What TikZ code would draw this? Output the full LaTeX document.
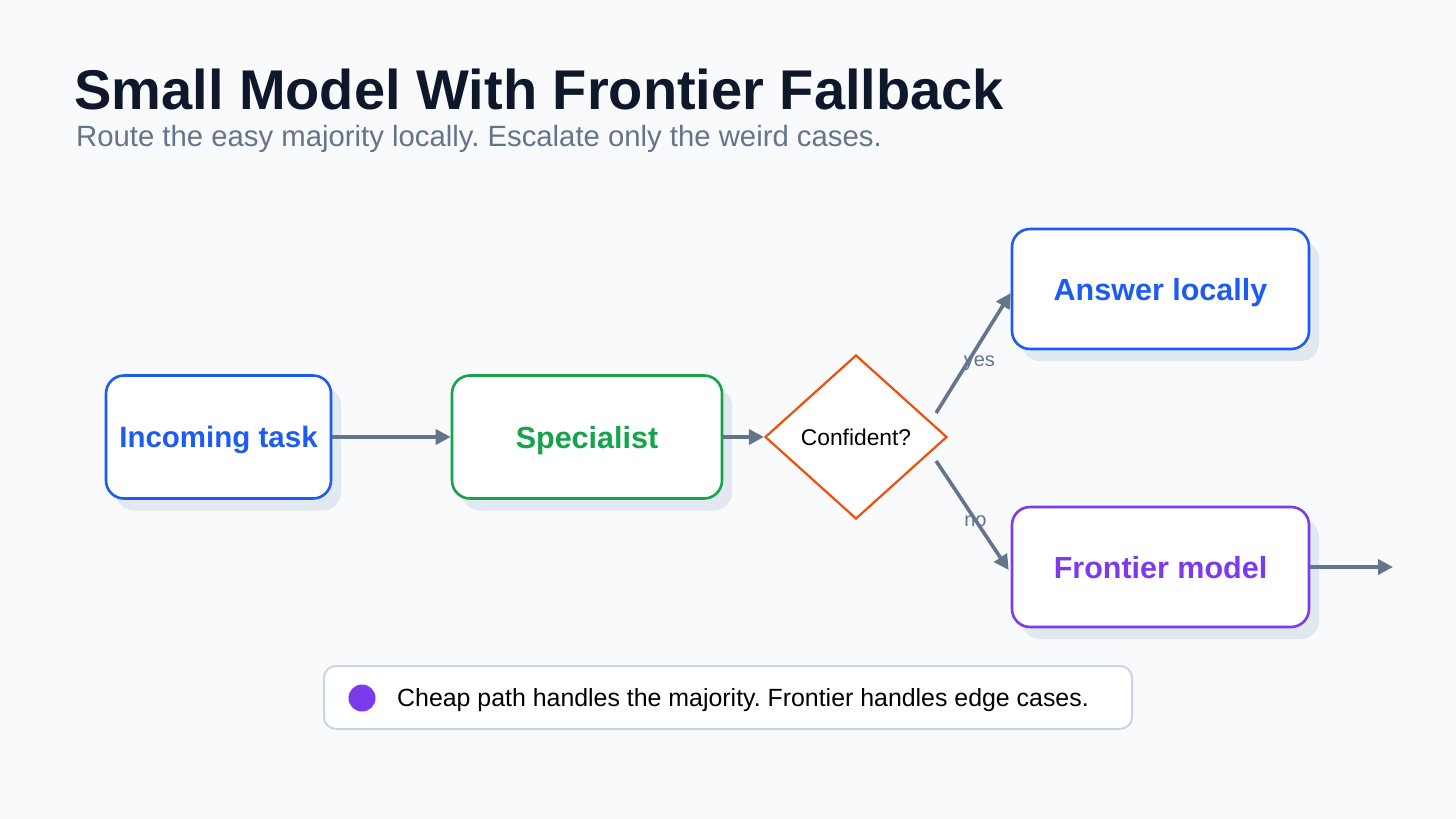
\documentclass[tikz,border=0pt]{standalone}
\usepackage{fontspec}
\setmainfont{Liberation Sans}
\usetikzlibrary{shapes.geometric,arrows.meta,shadows}
\definecolor{bgc}{HTML}{F8FAFC}
\definecolor{titlec}{HTML}{0F172A}
\definecolor{subc}{HTML}{64748B}
\definecolor{arrc}{HTML}{64748B}
\definecolor{shadc}{HTML}{E2E8F0}
\definecolor{bluec}{HTML}{1D5CF0}
\definecolor{greenc}{HTML}{16A34A}
\definecolor{orangec}{HTML}{F04E0C}
\definecolor{purplec}{HTML}{7C3AED}
\definecolor{legc}{HTML}{CBD5E1}
\newcommand{\fs}[1]{\fontsize{#1}{#1}\selectfont}
\frenchspacing
\tikzset{
  box/.style={draw, line width=2.6pt, rounded corners=18pt, fill=white,
    minimum width=#1, minimum height=123, inner sep=0pt, text depth=0pt,
    drop shadow={shadow xshift=10pt, shadow yshift=-12pt, fill=shadc, opacity=1},
    font=\fs{30.5}\bfseries},
  arr/.style={draw=arrc, line width=3.6pt, -{Triangle[length=15pt,width=15pt]}},
  lbl/.style={text=subc, font=\fs{20}, inner sep=0pt, behind path}
}
\begin{document}
\begin{tikzpicture}[x=1pt,y=-1pt]
\fill[bgc] (0,0) rectangle (1456,819);
\useasboundingbox (0,0) rectangle (1456,819);
\node[anchor=base west, text=titlec, font=\fs{56}\bfseries, inner sep=0pt] (title) at (74,109) {Small Model With Frontier Fallback};
\node[anchor=base west, text=subc, font=\fs{29.3}, inner sep=0pt] (sub) at (76,146) {Route the easy majority locally. Escalate only the weird cases.};

\node[box=225, draw=bluec, text=bluec, font=\fs{29.5}\bfseries] (inc) at (218.5,437) {Incoming task};
\node[box=270, draw=greenc, text=greenc] (spec) at (587,437) {Specialist};
\node[diamond, draw=orangec, line width=2.2pt, fill=white, minimum width=182, minimum height=164, inner sep=0pt, font=\fs{22.8}] (dia) at (856,437) {Confident?};
\node[box=297, minimum height=120, draw=bluec, text=bluec] (ans) at (1160.5,289) {Answer locally};
\node[box=297, minimum height=120, draw=purplec, text=purplec] (fr) at (1160.5,567) {Frontier model};
\coordinate (out) at (1393,567);

\draw[arr] (inc.east) -- (spec.west);
\draw[arr] (spec.east) -- (dia.west);
\draw[arr] ([xshift=-12pt,yshift=24pt]dia.east) -- node[lbl, pos=0.5, xshift=6pt, yshift=-10pt] {yes} ([yshift=-4pt]ans.west);
\draw[arr] ([xshift=-12pt,yshift=-24pt]dia.east) -- node[lbl, pos=0.5, xshift=3pt, yshift=-6pt] {no} ([xshift=-2pt,yshift=-3pt]fr.west);
\draw[arr] (fr.east) -- (out);

\node[draw=legc, line width=2pt, rounded corners=12pt, fill=white, minimum width=808, minimum height=63, inner sep=0pt] (leg) at (728,697.5) {};
\node[circle, fill=purplec, minimum size=27, inner sep=0pt] (dot) at (362,698) {};
\node[anchor=base west, font=\fs{24.9}, text=black, inner sep=0pt] (legt) at (397,706) {Cheap path handles the majority. Frontier handles edge cases.};
\end{tikzpicture}
\end{document}
